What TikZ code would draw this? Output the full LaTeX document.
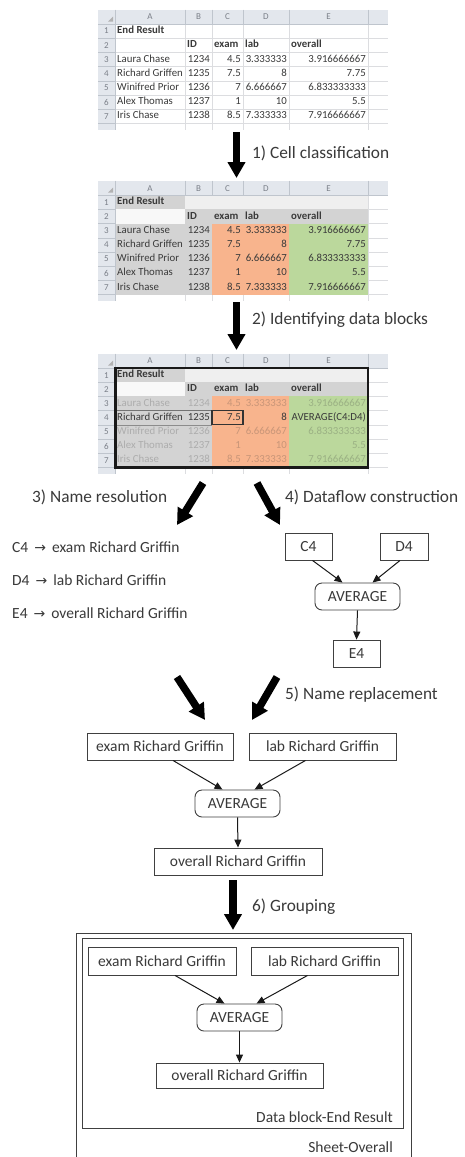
\documentclass[tikz,border=0pt]{standalone}
\usepackage{fontspec}
\setmainfont{Carlito}
\newfontfamily\symfont{DejaVu Sans}
\usetikzlibrary{arrows.meta}
\definecolor{txt}{HTML}{3A3A3A}
\definecolor{hdr}{HTML}{E3E7ED}
\definecolor{hdrline}{HTML}{BFC5CD}
\definecolor{hdrtext}{HTML}{7A7F88}
\definecolor{gridc}{HTML}{DCDDE0}
\definecolor{cgray}{HTML}{D3D3D3}
\definecolor{clight}{HTML}{EFEFEF}
\definecolor{cwhite}{HTML}{F8F8F8}
\definecolor{corange}{HTML}{F8B48D}
\definecolor{cgreen}{HTML}{BBD89C}
\definecolor{boxc}{HTML}{404040}
\tikzset{
  big/.style={line width=7.5pt, -{Triangle[width=17pt,length=16pt]}, black},
  thinarr/.style={line width=1pt, -{Triangle[width=7pt,length=8pt]}, black!90},
  box/.style={draw=boxc, line width=0.9pt, minimum height=27pt, inner sep=0pt, text=txt, font=\fontsize{15.5}{17}\selectfont},
  rbox/.style={box, rounded corners=7pt},
  lbl/.style={text=txt, font=\fontsize{17.3}{19}\selectfont, inner sep=0pt},
  lbltwo/.style={text=txt, font=\fontsize{15.5}{17}\selectfont, inner sep=0pt},
  cell/.style={text=txt, font=\fontsize{10.8}{12}\selectfont, inner sep=0pt, text height=7pt, text depth=2pt},
  cellb/.style={cell, font=\fontsize{10.8}{12}\selectfont\bfseries},
  hdrtxt/.style={text=hdrtext, font=\fontsize{9}{10}\selectfont, inner sep=0pt},
  gl/.style={draw=gridc, line width=0.5pt},
  hl/.style={draw=hdrline, line width=0.5pt}
}
\newcommand\sheetbase{%
  \fill[white] (115,14.5) rectangle (388,120);
  \foreach \k in {0,...,7} \draw[gl] (115,{14.5+\k*14.2}) -- (388,{14.5+\k*14.2});
  \foreach \x in {185,212,243,289,368} \draw[gl] (\x,14.5) -- (\x,120);
}
\newcommand\sheetfills{%
  \fill[cgray] (115,14.5) rectangle (185,28.7);
  \fill[clight] (185,14.5) rectangle (368,28.7);
  \fill[cwhite] (115,28.7) rectangle (185,42.9);
  \fill[cgray] (185,28.7) rectangle (368,42.9);
  \fill[cgray] (115,42.9) rectangle (212,113.9);
  \fill[corange] (212,42.9) rectangle (289,113.9);
  \fill[cgreen] (289,42.9) rectangle (368,113.9);
}
\newcommand\sheetheader{%
  \fill[hdr] (98,0) rectangle (388,14.5);
  \fill[hdr] (98,14.5) rectangle (115,120);
  \foreach \x in {115,185,212,243,289,368} \draw[hl] (\x,0) -- (\x,14.5);
  \draw[hl] (98,14.5) -- (388,14.5);
  \draw[hl] (115,14.5) -- (115,120);
  \foreach \k in {1,...,7} \draw[hl] (98,{14.5+\k*14.2}) -- (115,{14.5+\k*14.2});
  \fill[black!30] (108,12) -- (113,12) -- (113,7) -- cycle;
  \foreach \c/\x in {A/150,B/198.5,C/227.5,D/266,E/328.5} \node[hdrtxt] at (\x,7.5) {\c};
  \foreach \r in {1,...,7} \node[hdrtxt] at (106.5,{14.5+(\r-0.5)*14.2}) {\r};
}
\newcommand\titlerows{%
  \node[cellb,anchor=west] at (117,21.6) {End Result};
  \node[cellb,anchor=west] at (187,35.8) {ID};
  \node[cellb,anchor=west] at (214,35.8) {exam};
  \node[cellb,anchor=west] at (245,35.8) {lab};
  \node[cellb,anchor=west] at (291,35.8) {overall};
}
\newcommand\datarow[7]{%
  \begin{scope}[text opacity=#7]
  \node[cell,anchor=west] at (117,{14.5+(#1-0.5)*14.2}) {#2};
  \node[cell,anchor=east] at (210,{14.5+(#1-0.5)*14.2}) {#3};
  \node[cell,anchor=east] at (241,{14.5+(#1-0.5)*14.2}) {#4};
  \node[cell,anchor=east] at (287,{14.5+(#1-0.5)*14.2}) {#5};
  \node[cell,anchor=east] at (366,{14.5+(#1-0.5)*14.2}) {#6};
  \end{scope}}
\newcommand\datarows[2]{% #1 opacity of other rows, #2 content of E4
  \datarow{3}{Laura Chase}{1234}{4.5}{3.333333}{3.916666667}{#1}
  \datarow{4}{Richard Griffen}{1235}{7.5}{8}{#2}{1}
  \datarow{5}{Winifred Prior}{1236}{7}{6.666667}{6.833333333}{#1}
  \datarow{6}{Alex Thomas}{1237}{1}{10}{5.5}{#1}
  \datarow{7}{Iris Chase}{1238}{8.5}{7.333333}{7.916666667}{#1}
}
\newcommand\rarr{\hspace{6pt}{\symfont\fontsize{14}{14}\selectfont →}\hspace{6pt}}
\begin{document}
\begin{tikzpicture}[x=1pt,y=-1pt]
\useasboundingbox[fill=white] (0,0) rectangle (465,1157);

% ---------- sheet 1
\begin{scope}[yshift=-9.5pt]
  \sheetbase
  \sheetheader
  \titlerows
  \datarows{1}{7.75}
\end{scope}

% ---------- sheet 2
\begin{scope}[yshift=-180.7pt]
  \sheetbase
  \sheetfills
  \sheetheader
  \titlerows
  \datarows{1}{7.75}
\end{scope}

% ---------- sheet 3
\begin{scope}[yshift=-353.5pt]
  \sheetbase
  \sheetfills
  \sheetheader
  \titlerows
  \datarows{0.25}{AVERAGE(C4:D4)}
  \draw[black!55, line width=0.6pt] (115,57.1) -- (212,57.1);
  \draw[black!45, line width=0.6pt] (115,71.3) -- (212,71.3);
  \draw[black!80, line width=1.1pt] (212,57.1) rectangle (243,71.3);
  \draw[black!90, line width=2.6pt] (115.5,14.5) rectangle (368,113.9);
\end{scope}

% ---------- step 1, 2 arrows
\coordinate (a1s) at (236.5,132);
\coordinate (a1e) at (236.5,178);
\draw[big] (a1s) -- (a1e);
\node[lbl, anchor=west] (l1) at (252,153) {1) Cell classification};

\coordinate (a2s) at (236.5,302);
\coordinate (a2e) at (236.5,350);
\draw[big] (a2s) -- (a2e);
\node[lbl, anchor=west] (l2) at (252,320) {2) Identifying data blocks};

% ---------- step 3 / 4
\coordinate (a3ls) at (203,483);
\coordinate (a3le) at (177,525);
\draw[big] (a3ls) -- (a3le);
\coordinate (a3rs) at (257,483);
\coordinate (a3re) at (280,525);
\draw[big] (a3rs) -- (a3re);
\node[lbl, anchor=west] (l3) at (32,497) {3) Name resolution};
\node[lbl, anchor=west] (l4) at (285,497) {4) Dataflow construction};

\node[lbltwo, anchor=west] (n1) at (12,547) {C4\rarr exam Richard Griffin};
\node[lbltwo, anchor=west] (n2) at (12,580) {D4\rarr lab Richard Griffin};
\node[lbltwo, anchor=west] (n3) at (12,613) {E4\rarr overall Richard Griffin};

\node[box, minimum width=47pt] (c4) at (308.5,546.5) {C4};
\node[box, minimum width=48pt] (d4) at (404,546.5) {D4};
\node[rbox, minimum width=85pt] (avg4) at (357.5,596.5) {AVERAGE};
\node[box, minimum width=47pt] (e4) at (356.5,653.5) {E4};
\draw[thinarr] ([xshift=4pt]c4.south) -- ([xshift=-15pt]avg4.north);
\draw[thinarr] ([xshift=-4pt]d4.south) -- ([xshift=15pt]avg4.north);
\draw[thinarr] (avg4.south) -- (e4.north);

% ---------- step 5
\coordinate (a5ls) at (177,677);
\coordinate (a5le) at (205,720);
\draw[big] (a5ls) -- (a5le);
\coordinate (a5rs) at (277,677);
\coordinate (a5re) at (252,720);
\draw[big] (a5rs) -- (a5re);
\node[lbl, anchor=west] (l5) at (285,695) {5) Name replacement};

\node[box, minimum width=146pt] (ex5) at (160,746.5) {exam Richard Griffin};
\node[box, minimum width=147pt] (lb5) at (322.5,746.5) {lab Richard Griffin};
\node[rbox, minimum width=85pt] (avg5) at (237.5,803.5) {AVERAGE};
\node[box, minimum width=168pt] (ov5) at (238,861.5) {overall Richard Griffin};
\draw[thinarr] ([xshift=13pt]ex5.south) -- ([xshift=-15pt]avg5.north);
\draw[thinarr] ([xshift=-17pt]lb5.south) -- ([xshift=17pt]avg5.north);
\draw[thinarr] (avg5.south) -- (ov5.north);

% ---------- step 6
\coordinate (a6s) at (233,880);
\coordinate (a6e) at (233,930);
\draw[big] (a6s) -- (a6e);
\node[lbl, anchor=west] (l6) at (252,907) {6) Grouping};

\draw[draw=boxc, line width=0.9pt] (76,1158) -- (76,933) -- (411,933) -- (411,1158);
\node[draw=boxc, line width=0.9pt, minimum width=321pt, minimum height=190pt, inner sep=0pt] (blk) at (242.5,1033) {};
\node[lbltwo, anchor=east] (dbl) at (393,1117) {Data block-End Result};
\node[lbltwo, anchor=east] (sho) at (393,1147) {Sheet-Overall};

\node[box, minimum width=148pt, minimum height=28pt] (ex6) at (162,961) {exam Richard Griffin};
\node[box, minimum width=147pt, minimum height=28pt] (lb6) at (324.5,961) {lab Richard Griffin};
\node[rbox, minimum width=85pt] (avg6) at (239.5,1017.5) {AVERAGE};
\node[box, minimum width=167pt, minimum height=25pt] (ov6) at (239.5,1075.5) {overall Richard Griffin};
\draw[thinarr] ([xshift=13pt]ex6.south) -- ([xshift=-15pt]avg6.north);
\draw[thinarr] ([xshift=-17pt]lb6.south) -- ([xshift=17pt]avg6.north);
\draw[thinarr] (avg6.south) -- (ov6.north);
\end{tikzpicture}
\end{document}
